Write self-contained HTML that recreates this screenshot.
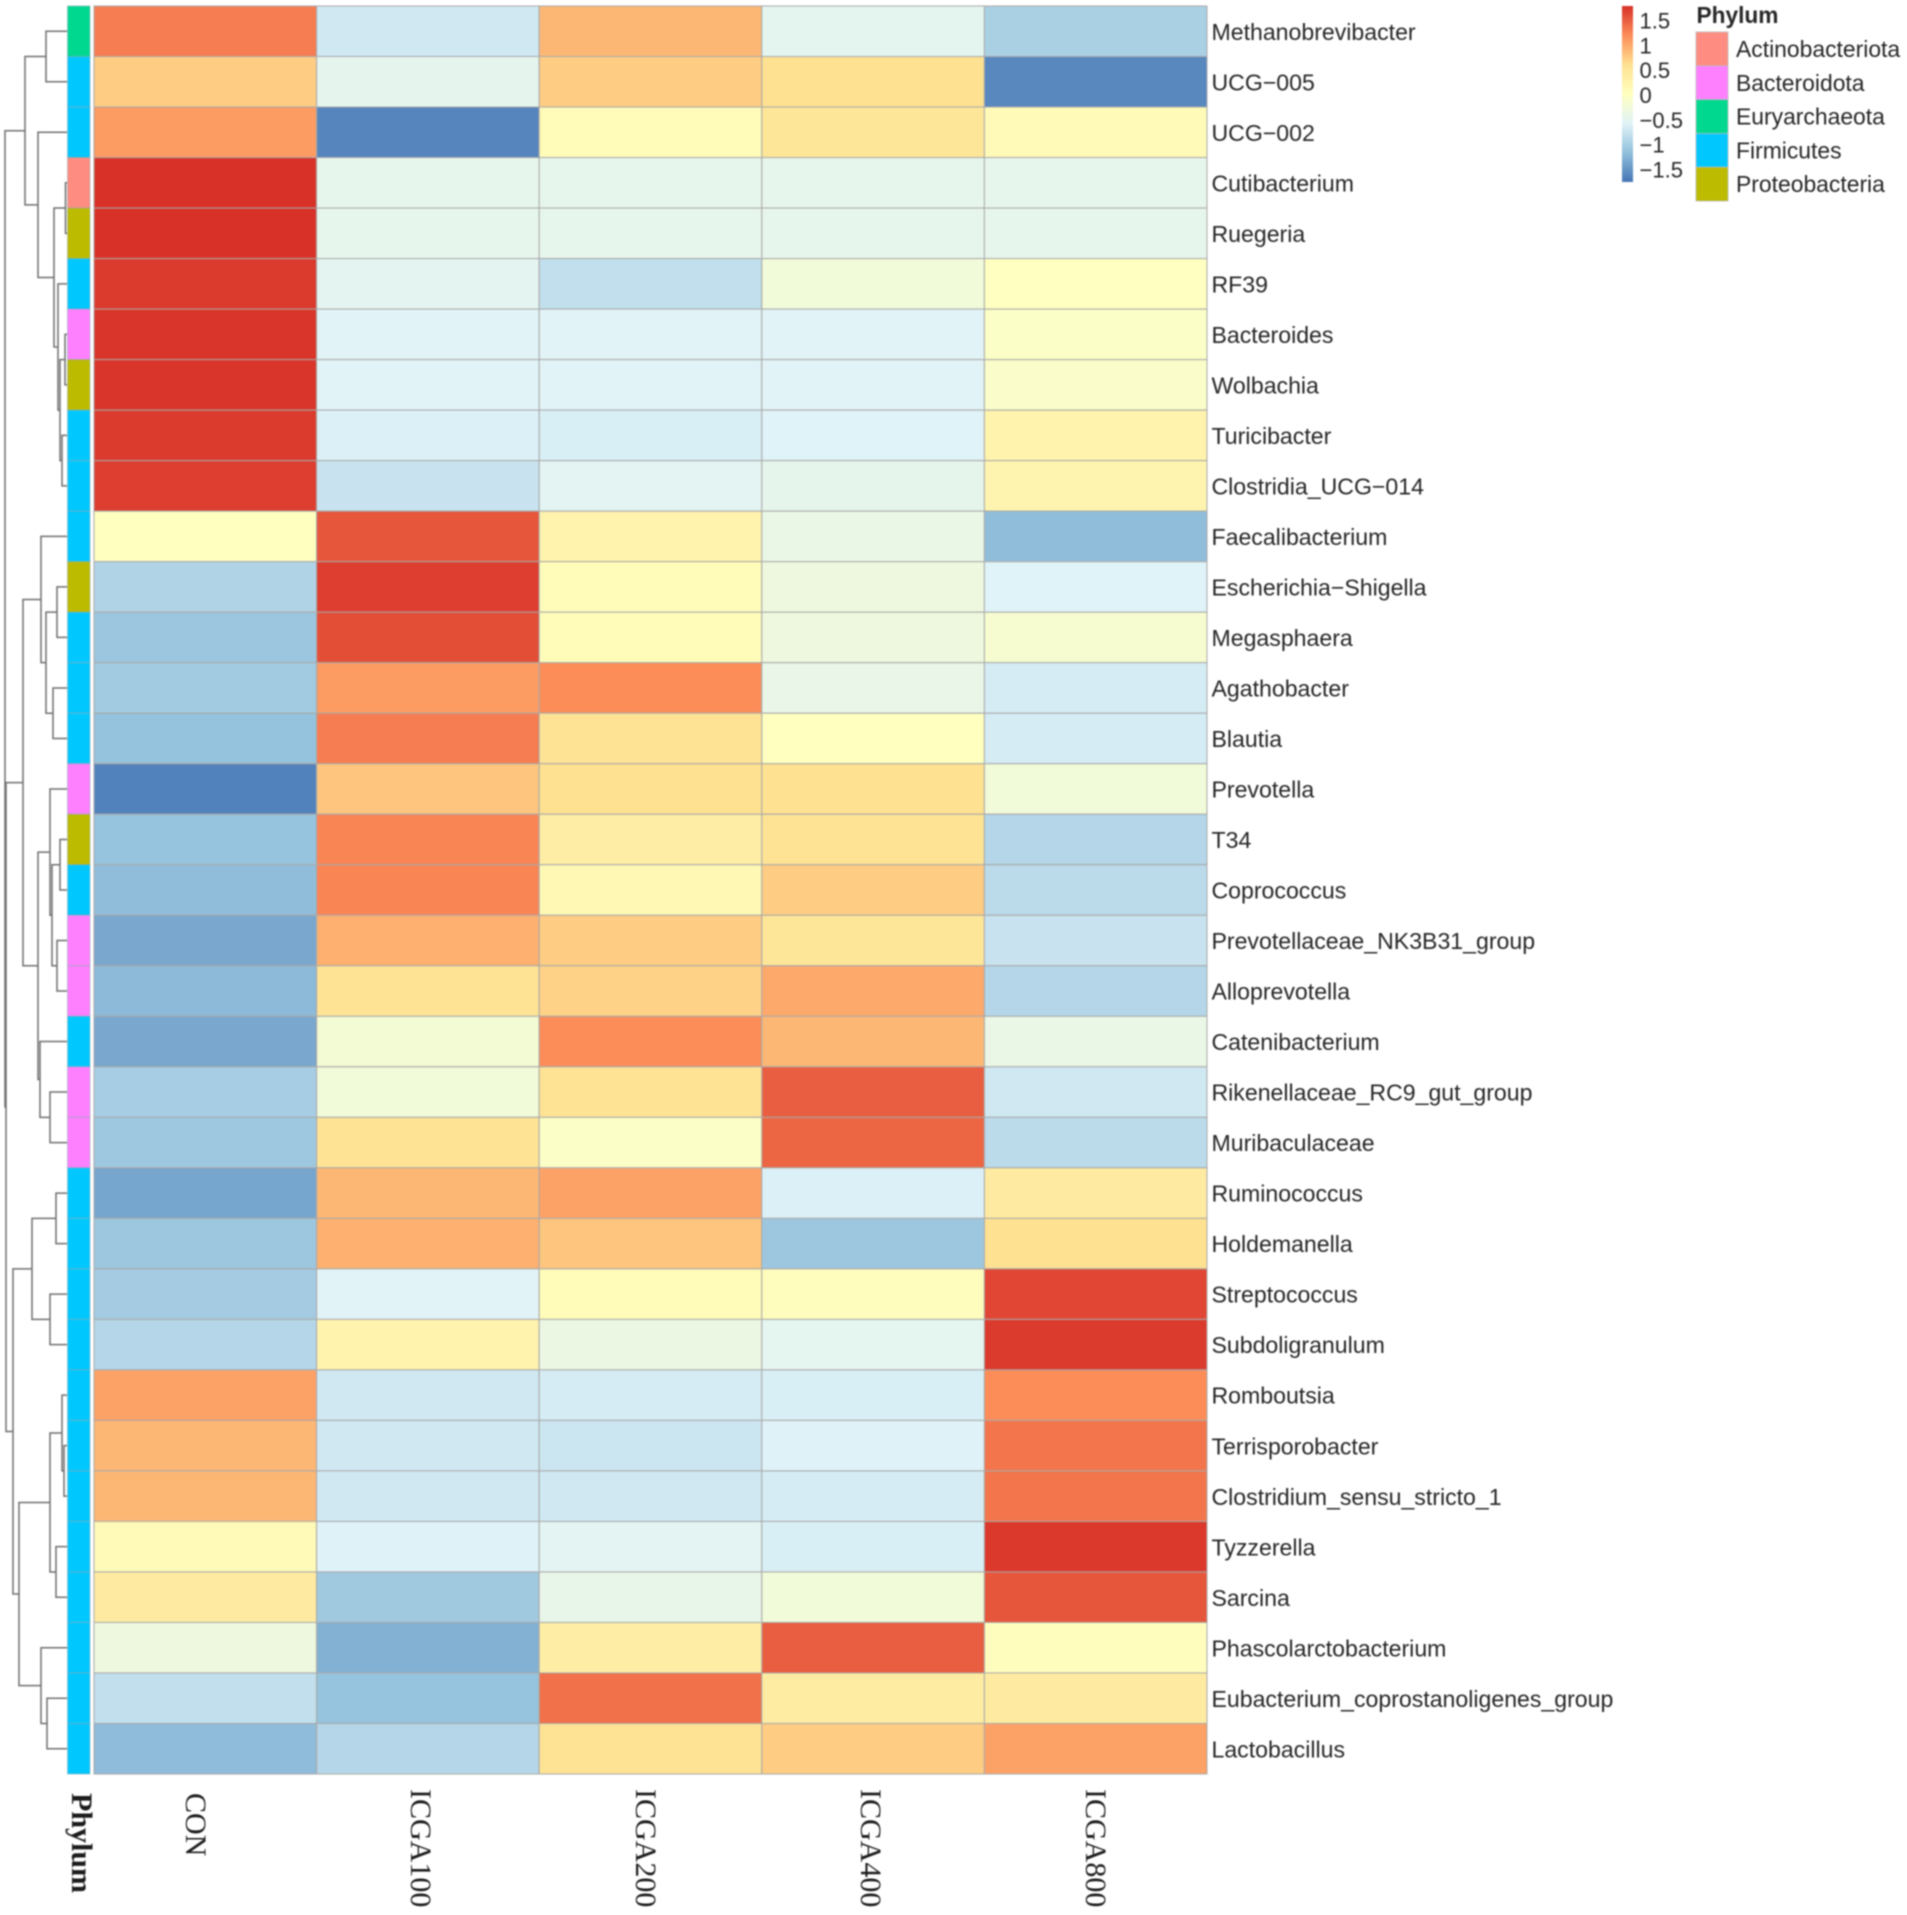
<!DOCTYPE html>
<html lang="en">
<head>
<meta charset="utf-8">
<title>Genus abundance heatmap by phylum</title>
<style>
html,body{margin:0;padding:0;background:#fff;}
#chart{display:block;filter:blur(0.85px);}
text{font-family:"Liberation Sans",sans-serif;fill:#262626;}
.serif{font-family:"Liberation Serif",serif;fill:#1c1c1c;}
</style>
</head>
<body>
<svg id="chart" xmlns="http://www.w3.org/2000/svg" width="1907" height="1915" viewBox="0 0 1907 1915">
<rect width="1907" height="1915" fill="#ffffff"/>
<defs><linearGradient id="ramp" x1="0" y1="1" x2="0" y2="0"></linearGradient></defs>
<g id="dendrogram"></g>
<g id="annotation"></g>
<g id="cells"></g>
<g id="rowlabels"></g>
<g id="collabels"></g>
<g id="colorbar"></g>
<g id="phylumlegend"></g>
</svg>
<script>
const sampleLabels = ["CON", "ICGA100", "ICGA200", "ICGA400", "ICGA800"];
const genusLabels = ["Methanobrevibacter", "UCG\u2212005", "UCG\u2212002", "Cutibacterium", "Ruegeria", "RF39", "Bacteroides", "Wolbachia", "Turicibacter", "Clostridia_UCG\u2212014", "Faecalibacterium", "Escherichia\u2212Shigella", "Megasphaera", "Agathobacter", "Blautia", "Prevotella", "T34", "Coprococcus", "Prevotellaceae_NK3B31_group", "Alloprevotella", "Catenibacterium", "Rikenellaceae_RC9_gut_group", "Muribaculaceae", "Ruminococcus", "Holdemanella", "Streptococcus", "Subdoligranulum", "Romboutsia", "Terrisporobacter", "Clostridium_sensu_stricto_1", "Tyzzerella", "Sarcina", "Phascolarctobacterium", "Eubacterium_coprostanoligenes_group", "Lactobacillus"];
const phylumNames = ["Actinobacteriota", "Bacteroidota", "Euryarchaeota", "Firmicutes", "Proteobacteria"];
const phylumColors = ["#ff8c80", "#ff80ff", "#00d890", "#00c8ff", "#bdbb00"];
const genusPhylum = ["Euryarchaeota", "Firmicutes", "Firmicutes", "Actinobacteriota", "Proteobacteria", "Firmicutes", "Bacteroidota", "Proteobacteria", "Firmicutes", "Firmicutes", "Firmicutes", "Proteobacteria", "Firmicutes", "Firmicutes", "Firmicutes", "Bacteroidota", "Proteobacteria", "Firmicutes", "Bacteroidota", "Bacteroidota", "Firmicutes", "Bacteroidota", "Bacteroidota", "Firmicutes", "Firmicutes", "Firmicutes", "Firmicutes", "Firmicutes", "Firmicutes", "Firmicutes", "Firmicutes", "Firmicutes", "Firmicutes", "Firmicutes", "Firmicutes"];
const conValues = [1.3, 0.75, 1.1, 1.78, 1.78, 1.72, 1.76, 1.76, 1.72, 1.7, 0.02, -0.93, -1.08, -1.03, -1.13, -1.65, -1.12, -1.17, -1.35, -1.2, -1.35, -1.0, -1.06, -1.37, -1.07, -1.02, -0.9, 1.05, 0.9, 0.9, 0.12, 0.4, -0.3, -0.8, -1.18];
const icga100Values = [-0.7, -0.47, -1.62, -0.445, -0.445, -0.5, -0.55, -0.55, -0.6, -0.75, 1.55, 1.7, 1.6, 1.1, 1.3, 0.8, 1.25, 1.25, 0.95, 0.55, -0.2, -0.25, 0.55, 0.9, 0.95, -0.55, 0.25, -0.7, -0.7, -0.7, -0.58, -1.05, -1.27, -1.12, -0.9];
const icga200Values = [0.9, 0.75, 0.1, -0.445, -0.445, -0.8, -0.55, -0.55, -0.62, -0.52, 0.25, 0.08, 0.08, 1.2, 0.55, 0.6, 0.35, 0.15, 0.75, 0.7, 1.2, 0.55, -0.05, 1.05, 0.8, 0.1, -0.35, -0.65, -0.72, -0.7, -0.52, -0.42, 0.35, 1.38, 0.55];
const icga400Values = [-0.49, 0.6, 0.5, -0.445, -0.445, -0.25, -0.55, -0.55, -0.57, -0.45, -0.38, -0.3, -0.3, -0.4, 0.02, 0.6, 0.55, 0.75, 0.5, 1.0, 0.9, 1.5, 1.45, -0.6, -1.07, 0.05, -0.48, -0.62, -0.58, -0.65, -0.62, -0.25, 1.5, 0.38, 0.75];
const icga800Values = [-0.97, -1.6, 0.12, -0.445, -0.445, 0.0, -0.05, -0.08, 0.25, 0.22, -1.17, -0.57, -0.15, -0.65, -0.65, -0.25, -0.9, -0.85, -0.75, -0.9, -0.38, -0.7, -0.85, 0.4, 0.6, 1.65, 1.72, 1.2, 1.35, 1.35, 1.73, 1.55, 0.05, 0.4, 1.05];
const seriesValues = [conValues, icga100Values, icga200Values, icga400Values, icga800Values];
const legendTicks = [1.5, 1, 0.5, 0, -0.5, -1, -1.5];
const rampColors = ["#4575b4", "#91bfdb", "#e0f3f8", "#ffffbf", "#fee090", "#fc8d59", "#d73027"];
const valueDomain = [-1.75, 1.79];
/* Row dendrogram: [merge distance, left branch, right branch]; integers are row indices */
const rowTree = [6.2,
  [4.2, [2.1, 0, 1],
    [2.9, 2,
      [1.3, [0.15, 3, 4],
        [0.9, 5,
          [0.7, [0.2, 6, 7], [0.5, 8, 9]]]]]],
  [6.1,
    [4.4,
      [2.6, 10,
        [2.1, [1.0, 11, 12], [1.4, 13, 14]]],
      [2.9,
        [1.7, 15,
          [1.5, [0.7, 16, 17], [1.0, 18, 19]]],
        [2.7, 20, [1.7, 21, 22]]]],
    [5.4,
      [3.5, [1.1, 23, 24], [1.7, 25, 26]],
      [4.8,
        [1.7,
          [0.5, 27, [0.3, 28, 29]],
          [1.1, 30, 31]],
        [2.6, 32, [2.0, 33, 34]]]]]];

const SVG = "http://www.w3.org/2000/svg";
const gridLeft = 94, gridRight = 1207, gridTop = 6, gridBottom = 1774;
const annoLeft = 67.5, annoRight = 90;
const colWidth = (gridRight - gridLeft) / sampleLabels.length;
const rowHeight = (gridBottom - gridTop) / genusLabels.length;
const colX = i => gridLeft + i * colWidth;
const rowY = i => gridTop + i * rowHeight;
const rowCenter = i => rowY(i) + rowHeight / 2;
const distX = d => 67 - d * 10;
const labelBaseX = i => 186 + i * 225;
const barTop = 6, barBottom = 182;
const valueY = v => barBottom - (v - valueDomain[0]) / (valueDomain[1] - valueDomain[0]) * (barBottom - barTop);

function hexRgb(h) {
  return [parseInt(h.slice(1, 3), 16), parseInt(h.slice(3, 5), 16), parseInt(h.slice(5, 7), 16)];
}
function colorFor(v) {
  const t = Math.max(0, Math.min(1, (v - valueDomain[0]) / (valueDomain[1] - valueDomain[0])));
  const p = t * (rampColors.length - 1);
  const i = Math.min(rampColors.length - 2, Math.floor(p));
  const f = p - i;
  const a = hexRgb(rampColors[i]), b = hexRgb(rampColors[i + 1]);
  return "rgb(" + a.map((c, k) => Math.round(c + (b[k] - c) * f)).join(",") + ")";
}
function make(tag, attrs, parent, txt) {
  const el = document.createElementNS(SVG, tag);
  for (const k in attrs) el.setAttribute(k, attrs[k]);
  if (txt !== undefined) el.textContent = txt;
  parent.appendChild(el);
  return el;
}

/* heatmap cells */
const cellsG = document.getElementById("cells");
seriesValues.forEach((vals, c) => {
  vals.forEach((v, r) => {
    const el = make("rect", {x: colX(c), y: rowY(r), width: colWidth, height: rowHeight, fill: colorFor(v), stroke: "#a9a9a9", "stroke-width": 1}, cellsG);
    
    
  });
});

/* phylum annotation column */
const annoG = document.getElementById("annotation");
genusPhylum.forEach((p, r) => {
  const el = make("rect", {x: annoLeft, y: rowY(r), width: annoRight - annoLeft, height: rowHeight, fill: phylumColors[phylumNames.indexOf(p)], stroke: "#8fa8b0", "stroke-opacity": 0.55, "stroke-width": 1}, annoG);
  
  
});

/* row labels */
const rowG = document.getElementById("rowlabels");
genusLabels.forEach((label, r) => {
  const el = make("text", {x: 1211.5, y: rowCenter(r) + 8.6, "font-size": 23.1}, rowG, label);
  
  
});

/* column labels */
const colG = document.getElementById("collabels");
const labelStart = s => s === "CON" ? 1793 : 1789;
sampleLabels.forEach((label, c) => {
  const bx = labelBaseX(c);
  const y = labelStart(label);
  const el = make("text", {x: bx, y: y, "font-size": 30, "class": "serif", transform: "rotate(90 " + bx + " " + y + ")"}, colG, label);
  
  
});
const annoTitle = make("text", {x: 72, y: 1793, "font-size": 30, "font-weight": "bold", "class": "serif", transform: "rotate(90 72 1793)"}, colG, "Phylum");



/* dendrogram */
const dendroG = document.getElementById("dendrogram");
function drawNode(node) {
  if (typeof node === "number") return {x: 67, y: rowCenter(node)};
  const a = drawNode(node[1]), b = drawNode(node[2]);
  const x = distX(node[0]);
  const el = make("path", {d: "M" + a.x + " " + a.y + "H" + x + "V" + b.y + "H" + b.x, fill: "none", stroke: "#6f6f6f", "stroke-width": 1.5}, dendroG);
  
  
  return {x: x, y: (a.y + b.y) / 2};
}
drawNode(rowTree);

/* colour bar */
const ramp = document.getElementById("ramp");
rampColors.forEach((c, i) => {
  make("stop", {offset: i / (rampColors.length - 1), "stop-color": c}, ramp);
});
const barG = document.getElementById("colorbar");
const bar = make("rect", {x: 1622, y: barTop, width: 11, height: barBottom - barTop, fill: "url(#ramp)"}, barG);


legendTicks.forEach(t => {
  const txt = (t < 0 ? "\u2212" : "") + Math.abs(t);
  const el = make("text", {x: 1639.5, y: valueY(t) + 8, "font-size": 22}, barG, txt);
  
  
});

/* phylum legend */
const legG = document.getElementById("phylumlegend");
const legTitle = make("text", {x: 1696.5, y: 23, "font-size": 22.7, "font-weight": "bold"}, legG, "Phylum");


phylumNames.forEach((name, i) => {
  const top = 32 + i * 33.8;
  const sw = make("rect", {x: 1696, y: top, width: 32, height: 33.8, fill: phylumColors[i], stroke: "#bbbbbb", "stroke-width": 0.8}, legG);
  
  
  const lb = make("text", {x: 1736, y: top + 25, "font-size": 22.9}, legG, name);
  
  
});
</script>
</body>
</html>
